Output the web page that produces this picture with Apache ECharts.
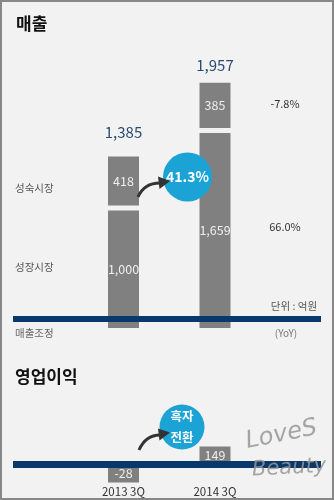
<!DOCTYPE html>
<html><head><meta charset="utf-8">
<script src="https://cdn.jsdelivr.net/npm/echarts@6/dist/echarts.min.js"></script>
<style>
html,body{margin:0;padding:0;background:#f2f2f2;}
#wrap{position:absolute;left:0;top:0;width:330px;height:496px;border:2px solid #888;background:#f2f2f2;}
#c{position:absolute;left:-2px;top:-2px;width:334px;height:500px;}
</style></head>
<body><div id="wrap"><div id="c"></div></div>
<script>
const categories = ['2013 3Q', '2014 3Q'];
const growthMarket = [1000, 1659];   // 성장시장
const matureMarket = [418, 385];     // 성숙시장
const totalSales = [1385, 1957];     // 매출 합계
const yoyGrowth = '66.0%';
const yoyMature = '-7.8%';
const salesGrowth = '41.3%';
const operatingProfit = [-28, 149];

const FONT = '"Noto Sans CJK KR","Noto Sans",sans-serif';
const BAR = '#808080';
const NAVY = '#0b386a';
const fmt = v => v.toLocaleString('en-US');
const totalOffset = [24, 18];

const chart = echarts.init(document.getElementById('c'));
chart.setOption({
  backgroundColor: 'transparent',
  animation: false,
  grid: [
    {left: 77.75, width: 183, top: 93, bottom: 172},
    {left: 77.75, width: 183, top: 441.1, bottom: 23.8}
  ],
  xAxis: [
    {gridIndex: 0, type: 'category', data: categories, show: false},
    {gridIndex: 1, type: 'category', data: categories,
     axisLine: {show: false}, axisTick: {show: false},
     axisLabel: {margin: 10, color: '#333', fontSize: 11.5, fontFamily: FONT}}
  ],
  yAxis: [
    {gridIndex: 0, type: 'value', min: 0, max: 2000, show: false},
    {gridIndex: 1, type: 'value', min: -100, max: 200, show: false}
  ],
  series: [
    {
      type: 'custom', xAxisIndex: 0, yAxisIndex: 0,
      data: categories.map((c, i) => [i, growthMarket[i], matureMarket[i], totalSales[i]]),
      renderItem: function (params, api) {
        const i = api.value(0), lo = api.value(1), up = api.value(2), tot = api.value(3);
        const base = api.coord([i, 0]);
        const mid = api.coord([i, lo]);
        const top = api.coord([i, lo + up]);
        const w = 31, gap = 5;
        const x = base[0] - w / 2;
        const kids = [
          {type: 'rect', shape: {x: x, y: mid[1], width: w, height: base[1] - mid[1]}, style: {fill: BAR}},
          {type: 'rect', shape: {x: x, y: top[1] - gap, width: w, height: mid[1] - top[1]}, style: {fill: BAR}},
          {type: 'text', style: {text: fmt(lo), x: base[0], y: (mid[1] + base[1]) / 2, align: 'center', verticalAlign: 'middle', fill: '#eeeeee', font: '12.5px ' + FONT}},
          {type: 'text', style: {text: fmt(up), x: base[0], y: (top[1] + mid[1]) / 2 - gap, align: 'center', verticalAlign: 'middle', fill: '#eeeeee', font: '12.5px ' + FONT}},
          {type: 'text', style: {text: fmt(tot), x: base[0], y: top[1] - gap - totalOffset[i], align: 'center', verticalAlign: 'middle', fill: '#2b4a72', font: '15px ' + FONT}}
        ];
        if (i === categories.length - 1) {
          kids.push({type: 'text', style: {text: yoyMature, x: base[0] + 70, y: (top[1] + mid[1]) / 2 - gap - 2, align: 'center', verticalAlign: 'middle', fill: '#333', font: '11px ' + FONT}});
          kids.push({type: 'text', style: {text: yoyGrowth, x: base[0] + 70, y: (mid[1] + base[1]) / 2 - 4, align: 'center', verticalAlign: 'middle', fill: '#333', font: '11px ' + FONT}});
        }
        return {type: 'group', children: kids};
      }
    },
    {
      type: 'bar', xAxisIndex: 1, yAxisIndex: 1, clip: false,
      data: operatingProfit, barWidth: 31, barMinHeight: 18,
      itemStyle: {color: BAR},
      label: {show: true, position: 'inside', color: '#eeeeee', fontSize: 12.5, fontFamily: FONT,
              formatter: p => String(p.value)}
    }
  ],
  graphic: [
    {type: 'rect', z: 100, shape: {x: 13, y: 316, width: 308, height: 6}, style: {fill: NAVY}},
    {type: 'rect', z: 100, shape: {x: 13, y: 461, width: 308, height: 7}, style: {fill: NAVY}},
    {type: 'text', z: 100, style: {text: '매출', x: 16, y: 24, verticalAlign: 'middle', fill: '#111', font: 'bold 17px ' + FONT}},
    {type: 'text', z: 100, style: {text: '영업이익', x: 15, y: 377, verticalAlign: 'middle', fill: '#111', font: 'bold 17px ' + FONT}},
    {type: 'text', z: 100, style: {text: '성숙시장', x: 15, y: 188, verticalAlign: 'middle', fill: '#555', font: '10.5px ' + FONT}},
    {type: 'text', z: 100, style: {text: '성장시장', x: 15, y: 267, verticalAlign: 'middle', fill: '#555', font: '10.5px ' + FONT}},
    {type: 'text', z: 100, style: {text: '매출조정', x: 15, y: 333, verticalAlign: 'middle', fill: '#666', font: '10.5px ' + FONT}},
    {type: 'text', z: 100, style: {text: '단위 : 억원', x: 294, y: 306, align: 'center', verticalAlign: 'middle', fill: '#555', font: '10.5px ' + FONT}},
    {type: 'text', z: 100, style: {text: '(YoY)', x: 286, y: 333, align: 'center', verticalAlign: 'middle', fill: '#777', font: '10px ' + FONT}},
    // growth badge
    {type: 'circle', z: 110, shape: {cx: 187.5, cy: 177, r: 24.5}, style: {fill: '#1ba3d6'}},
    {type: 'text', z: 111, style: {text: salesGrowth, x: 187.5, y: 177, align: 'center', verticalAlign: 'middle', fill: '#fff', font: 'bold 14px ' + FONT}},
    {type: 'bezierCurve', z: 110, shape: {x1: 138, y1: 197, cpx1: 142, cpy1: 188, cpx2: 150, cpy2: 183, x2: 160, y2: 183}, style: {stroke: '#333', lineWidth: 3, fill: null}},
    {type: 'polygon', z: 110, shape: {points: [[170, 181], [158, 176.5], [159.5, 189]]}, style: {fill: '#333'}},
    // profit badge
    {type: 'circle', z: 110, shape: {cx: 182, cy: 427, r: 22.5}, style: {fill: '#1ba3d6'}},
    {type: 'text', z: 111, style: {text: '흑자\n전환', x: 182, y: 427, align: 'center', verticalAlign: 'middle', lineHeight: 21, fill: '#fff', font: 'bold 12.5px ' + FONT}},
    {type: 'bezierCurve', z: 110, shape: {x1: 139, y1: 450, cpx1: 143, cpy1: 441, cpx2: 150, cpy2: 435, x2: 160, y2: 435}, style: {stroke: '#333', lineWidth: 3, fill: null}},
    {type: 'polygon', z: 110, shape: {points: [[170, 432.5], [158, 428.5], [159.5, 440.5]]}, style: {fill: '#333'}},
    // watermark
    {type: 'text', z: 120, x: 246, y: 442, rotation: 0.2, style: {text: 'LoveS', x: 0, y: 0, verticalAlign: 'middle', fill: 'rgba(150,150,150,0.85)', font: 'italic 24px "DejaVu Sans"'}},
    {type: 'text', z: 120, x: 252, y: 470, rotation: 0.05, style: {text: 'Beauty', x: 0, y: 0, verticalAlign: 'middle', fill: 'rgba(150,150,150,0.85)', font: 'italic 21px "DejaVu Sans"'}}
  ]
});
</script></body></html>
